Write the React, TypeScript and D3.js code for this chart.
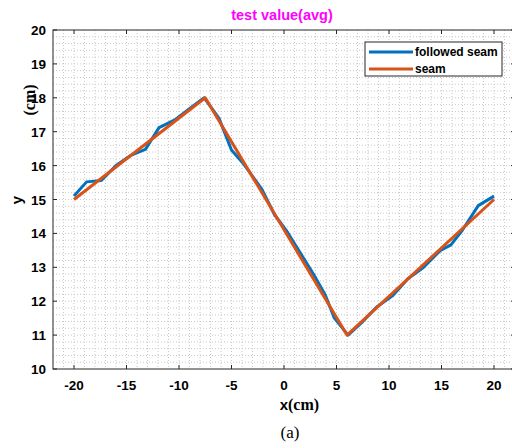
import { useRef, useEffect } from 'react';
import * as d3 from 'd3';

const followedX = [-20, -18.8, -17.4, -16, -14.6, -13.2, -11.9, -10.4, -9, -7.6, -6.2, -5, -3.9, -2.1, -0.9, 0.3, 1.5, 2.8, 3.9, 4.8, 6.1, 7.5, 8.8, 10.3, 11.8, 13.3, 14.9, 15.9, 17, 18.5, 20];
const followedY = [15.1, 15.52, 15.56, 16.0, 16.3, 16.48, 17.12, 17.35, 17.68, 18.0, 17.4, 16.46, 16.07, 15.3, 14.55, 14.05, 13.45, 12.8, 12.2, 11.5, 11.0, 11.4, 11.82, 12.15, 12.66, 13.0, 13.5, 13.66, 14.1, 14.82, 15.1];

// seam (reference)
const seamX = [-20, -7.5, 6, 20];
const seamY = [15, 18, 11, 15];

const xTicks = [-20, -15, -10, -5, 0, 5, 10, 15, 20];
const yTicks = [10, 11, 12, 13, 14, 15, 16, 17, 18, 19, 20];

const seriesNames = ["followed seam", "seam"];
const seriesColors = ["#0072BD", "#D95319"];

export default function App() {
  const svgRef = useRef<SVGSVGElement>(null);

  useEffect(() => {
    const width = 512;
    const height = 448;
    const margin = { top: 30, right: -3, bottom: 79, left: 53 };

    const svg = d3.select(svgRef.current);
    svg.selectAll("*").remove();

    const x = d3.scaleLinear().domain([-22, 22]).range([margin.left, width - margin.right]);
    const y = d3.scaleLinear().domain([10, 20]).range([height - margin.bottom, margin.top]);
    const [x0, x1] = x.range();
    const [y0, y1] = y.range();

    // minor + major grid (dotted)
    const grid = svg.append("g").attr("stroke", "#c8c8c8").attr("stroke-width", 1).attr("stroke-dasharray", "1,2");
    grid.selectAll("line.gx")
      .data(d3.range(-21, 22, 1))
      .join("line")
      .attr("x1", d => x(d)).attr("x2", d => x(d))
      .attr("y1", y1).attr("y2", y0);
    grid.selectAll("line.gy")
      .data(d3.range(10.2, 20, 0.2))
      .join("line")
      .attr("y1", d => y(d)).attr("y2", d => y(d))
      .attr("x1", x0).attr("x2", x1);

    // ticks (inside, on all four sides)
    const tk = svg.append("g").attr("stroke", "#262626").attr("stroke-width", 1);
    xTicks.forEach(t => {
      tk.append("line").attr("x1", x(t)).attr("x2", x(t)).attr("y1", y0).attr("y2", y0 - 4);
      tk.append("line").attr("x1", x(t)).attr("x2", x(t)).attr("y1", y1).attr("y2", y1 + 4);
    });
    yTicks.forEach(t => {
      tk.append("line").attr("y1", y(t)).attr("y2", y(t)).attr("x1", x0).attr("x2", x0 + 4);
      tk.append("line").attr("y1", y(t)).attr("y2", y(t)).attr("x1", x1).attr("x2", x1 - 4);
    });

    // box
    svg.append("rect")
      .attr("x", x0).attr("y", y1)
      .attr("width", x1 - x0).attr("height", y0 - y1)
      .attr("fill", "none").attr("stroke", "#262626").attr("stroke-width", 1);

    // tick labels
    svg.append("g")
      .selectAll("text")
      .data(xTicks)
      .join("text")
      .attr("x", d => x(d))
      .attr("y", y0 + 21)
      .attr("text-anchor", "middle")
      .attr("font-family", "Liberation Sans, Arial, sans-serif")
      .attr("font-weight", "bold")
      .attr("font-size", 13.5)
      .attr("fill", "#000")
      .text(d => d);
    svg.append("g")
      .selectAll("text")
      .data(yTicks)
      .join("text")
      .attr("x", x0 - 7)
      .attr("y", d => y(d) + 5)
      .attr("text-anchor", "end")
      .attr("font-family", "Liberation Sans, Arial, sans-serif")
      .attr("font-weight", "bold")
      .attr("font-size", 13.5)
      .attr("fill", "#000")
      .text(d => d);

    // lines
    const line = d3.line<[number, number]>().x(d => x(d[0])).y(d => y(d[1]));
    const followed = followedX.map((v, i) => [v, followedY[i]] as [number, number]);
    const seam = seamX.map((v, i) => [v, seamY[i]] as [number, number]);
    svg.append("path").datum(followed)
      .attr("d", line).attr("fill", "none")
      .attr("stroke", seriesColors[0]).attr("stroke-width", 3).attr("stroke-linejoin", "round");
    svg.append("path").datum(seam)
      .attr("d", line).attr("fill", "none")
      .attr("stroke", seriesColors[1]).attr("stroke-width", 3).attr("stroke-linejoin", "round");

    // title
    svg.append("text")
      .attr("x", 282).attr("y", 20)
      .attr("text-anchor", "middle")
      .attr("font-family", "Liberation Sans, Arial, sans-serif")
      .attr("font-weight", "bold").attr("font-size", 14.5)
      .attr("fill", "#ff00ff")
      .text("test value(avg)");

    // axis labels
    svg.append("text")
      .attr("x", 284).attr("y", 410)
      .attr("text-anchor", "middle")
      .attr("font-family", "Liberation Sans, Arial, sans-serif")
      .attr("font-weight", "bold").attr("font-size", 15)
      .text("x");
    svg.append("text")
      .attr("x", 288).attr("y", 410)
      .attr("font-family", "Liberation Serif, Times New Roman, serif")
      .attr("font-weight", "bold").attr("font-size", 16)
      .text("(cm)");
    svg.append("text")
      .attr("transform", "translate(22,200) rotate(-90)")
      .attr("text-anchor", "middle")
      .attr("font-family", "Liberation Sans, Arial, sans-serif")
      .attr("font-weight", "bold").attr("font-size", 15)
      .text("y");
    svg.append("text")
      .attr("transform", "translate(35,100) rotate(-90)")
      .attr("text-anchor", "middle")
      .attr("font-family", "Liberation Serif, Times New Roman, serif")
      .attr("font-weight", "bold").attr("font-size", 16)
      .text("(cm)");

    // caption
    svg.append("text")
      .attr("x", 290).attr("y", 438)
      .attr("text-anchor", "middle")
      .attr("font-family", "Liberation Serif, Times New Roman, serif")
      .attr("font-size", 17)
      .text("(a)");

    // legend
    const lg = svg.append("g").attr("transform", "translate(365,42)");
    lg.append("rect").attr("width", 137).attr("height", 34)
      .attr("fill", "#fff").attr("stroke", "#262626").attr("stroke-width", 1);
    seriesNames.forEach((name, i) => {
      lg.append("line")
        .attr("x1", 4).attr("x2", 48)
        .attr("y1", 10 + i * 17).attr("y2", 10 + i * 17)
        .attr("stroke", seriesColors[i]).attr("stroke-width", 3);
      lg.append("text")
        .attr("x", 50).attr("y", 14 + i * 17)
        .attr("font-family", "Liberation Sans, Arial, sans-serif")
        .attr("font-weight", "bold").attr("font-size", 12)
        .attr("fill", "#000")
        .text(name);
    });
  }, []);

  return (
    <svg
      ref={svgRef}
      width={512}
      height={448}
      style={{ position: 'absolute', left: 0, top: 0, background: '#fff' }}
    />
  );
}
